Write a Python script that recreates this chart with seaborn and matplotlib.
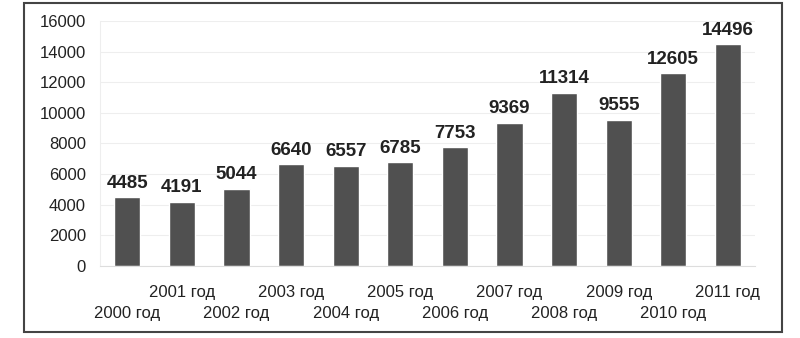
import matplotlib
matplotlib.use('Agg')
import matplotlib.pyplot as plt
import matplotlib.transforms as mtransforms
import seaborn as sns
import numpy as np
import pandas as pd
from matplotlib.patches import Rectangle

years = ['2000 год', '2001 год', '2002 год', '2003 год', '2004 год', '2005 год',
         '2006 год', '2007 год', '2008 год', '2009 год', '2010 год', '2011 год']
values = [4485, 4191, 5044, 6640, 6557, 6785, 7753, 9369, 11314, 9555, 12605, 14496]

df = pd.DataFrame({'year': years, 'value': values})

sns.set_style('white')
plt.rcParams['font.family'] = ['Liberation Sans', 'DejaVu Sans']

fig = plt.figure(figsize=(8, 3.38), dpi=100)
ax = fig.add_axes([0.125, 0.213, 0.819, 0.725])

sns.barplot(data=df, x='year', y='value', color='#505050', width=0.48,
            saturation=1, ax=ax)

ax.set_ylim(0, 16000)
ax.set_xlim(-0.5, len(years) - 0.5)
ax.set_yticks(np.arange(0, 16001, 2000))
ax.tick_params(axis='y', labelsize=12, colors='#222222', length=0, pad=10)
ax.grid(axis='y', color='#eeeeee', linewidth=0.8)
ax.set_axisbelow(True)

ax.set_xticks(range(len(years)))
ax.set_xticklabels(years, fontsize=12, color='#222222')
ax.tick_params(axis='x', length=0, pad=14)
ax.set_xticks(np.arange(-0.5, len(years)), minor=True)
ax.tick_params(axis='x', which='minor', length=4, color='#dddddd')

# staggered labels: even years go one row lower
shift = mtransforms.ScaledTranslation(0, -0.21, fig.dpi_scale_trans)
for i, lab in enumerate(ax.get_xticklabels()):
    if i % 2 == 0:
        lab.set_transform(lab.get_transform() + shift)

ax.set_xlabel('')
ax.set_ylabel('')
for s in ['top', 'right']:
    ax.spines[s].set_visible(False)
ax.spines['left'].set_color('#eeeeee')
ax.spines['bottom'].set_color('#dddddd')

for i, v in enumerate(values):
    ax.text(i, v + 350, str(v), ha='center', va='bottom', fontsize=13.5,
            fontweight='bold', color='#222222')

fig.patches.append(Rectangle((24 / 800, 6 / 338), 758 / 800, 329 / 338,
                             transform=fig.transFigure, fill=False,
                             edgecolor='#444444', linewidth=1.5))

fig.savefig('out.png', dpi=100)
